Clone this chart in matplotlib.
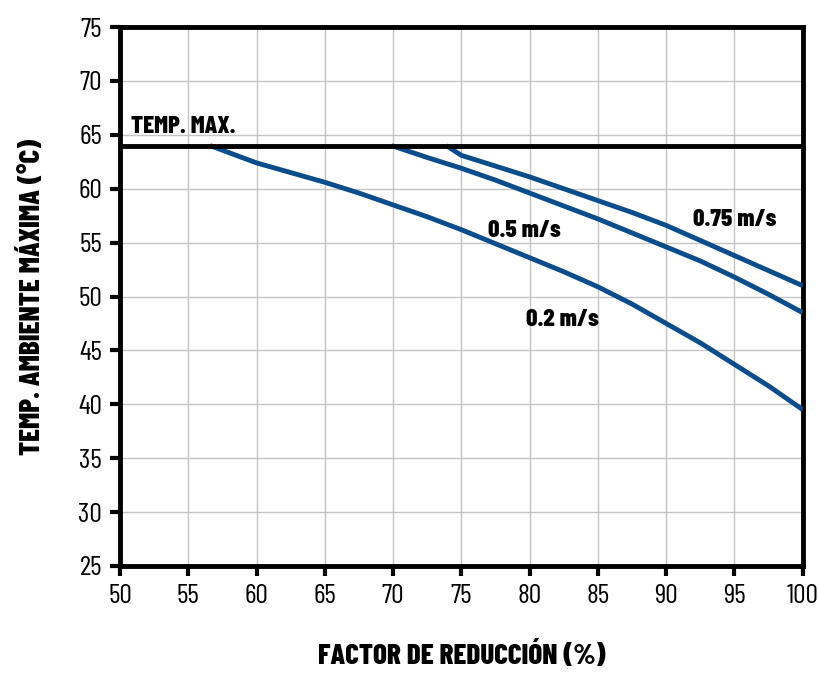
import matplotlib
matplotlib.use('Agg')
from matplotlib import pyplot as plt

# data
x_02 = [56.6, 60, 62.5, 65, 67.5, 70, 72.5, 75, 77.5, 80, 82.5, 85, 87.5, 90, 92.5, 95, 97.5, 100]
y_02 = [64.0, 62.4, 61.5, 60.6, 59.6, 58.5, 57.4, 56.2, 54.9, 53.6, 52.3, 50.9, 49.3, 47.5, 45.7, 43.7, 41.7, 39.5]

x_05 = [69.9, 72.5, 75, 77.5, 80, 82.5, 85, 87.5, 90, 92.5, 95, 97.5, 100]
y_05 = [64.0, 62.9, 61.9, 60.8, 59.6, 58.4, 57.2, 55.9, 54.6, 53.3, 51.8, 50.2, 48.5]

x_075 = [73.9, 75, 77.5, 80, 82.5, 85, 87.5, 90, 92.5, 95, 97.5, 100]
y_075 = [64.0, 63.1, 62.1, 61.1, 60.0, 58.9, 57.8, 56.6, 55.2, 53.8, 52.4, 51.0]

temp_max = 64
xticks = list(range(50, 101, 5))
yticks = list(range(25, 76, 5))

blue = '#0b4d8c'
fam = ['Barlow Condensed', 'Archivo Narrow', 'DejaVu Sans']


def main():
    plt.rcParams['font.family'] = fam
    fig = plt.figure(figsize=(8.2, 6.77), dpi=100)
    ax = fig.add_axes([0.1463, 0.164, 0.8327, 0.796])

    for xs, ys in [(x_02, y_02), (x_05, y_05), (x_075, y_075)]:
        ax.plot(xs, ys, c=blue, lw=3.5, solid_capstyle='butt', zorder=3)
    ax.axhline(temp_max, c='black', lw=3.5, zorder=4)

    lab = dict(fontsize=18, fontweight='heavy', ha='center', va='center')
    ax.text(54.6, 65.7, 'TEMP. MAX.', **lab)
    ax.text(79.6, 56.1, '0.5 m/s', **lab)
    ax.text(95.0, 57.1, '0.75 m/s', **lab)
    ax.text(82.4, 47.8, '0.2 m/s', **lab)

    ax.set_xlim(50, 100)
    ax.set_ylim(25, 75)
    ax.set_xticks(xticks)
    ax.set_yticks(yticks)
    ax.grid(True, color='#c4c4c4', lw=1)
    ax.set_axisbelow(True)
    for s in ax.spines.values():
        s.set_linewidth(3.5)
        s.set_color('black')
    ax.tick_params(length=7, width=3, labelsize=20, pad=6)

    ax.set_xlabel('FACTOR DE REDUCCIÓN (%)', fontsize=21, fontweight='heavy', labelpad=24)
    ax.set_ylabel('TEMP. AMBIENTE MÁXIMA (°C)', fontsize=21, fontweight='heavy', labelpad=24)

    fig.savefig('out.png', dpi=100)


if __name__ == "__main__":
    main()
